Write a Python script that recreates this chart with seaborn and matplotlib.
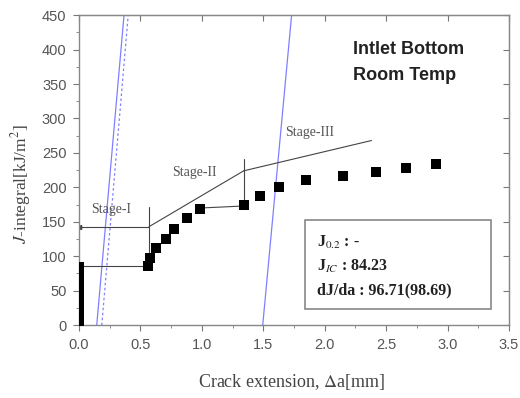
import matplotlib
matplotlib.use("Agg")
import matplotlib.pyplot as plt
import seaborn as sns
import pandas as pd
from matplotlib.patches import Rectangle

# J-R data points (crack extension mm, J kJ/m2)
da = [0.0, 0.0, 0.0, 0.0, 0.0, 0.0, 0.0, 0.0, 0.0, 0.0, 0.0, 0.0, 0.0, 0.0, 0.0,
      0.56, 0.58, 0.63, 0.705, 0.776, 0.876, 0.985, 1.343, 1.473, 1.625,
      1.845, 2.15, 2.417, 2.66, 2.905]
J = [0, 6, 12, 18, 24, 30, 36, 42, 48, 54, 60, 66, 72, 78, 84,
     86, 98, 112, 125, 140, 155, 169, 175, 188, 201,
     211, 217, 223, 228, 234]

# blunting / offset lines
blunt_x = [0.144, 0.366]
blunt_y = [0, 450]
blunt_dot_x = [0.185, 0.40]
blunt_dot_y = [0, 450]
offset_x = [1.495, 1.73]
offset_y = [0, 450]

# stage construction lines
stage_lines = [
    ([0.0, 0.56], [86, 86]),
    ([0.0, 0.57], [143, 143]),
    ([0.57, 0.57], [86, 172]),
    ([0.57, 1.34], [143, 224]),
    ([1.34, 1.34], [175, 241]),
    ([0.985, 1.343], [170, 173]),
    ([1.34, 2.38], [224, 268]),
]
stage_labels = ["Stage-I", "Stage-II", "Stage-III"]
stage_pos = [(0.26, 168), (0.94, 221), (1.88, 280)]

box_lines = ["J$_{0.2}$ : -", "J$_{IC}$ : 84.23", "dJ/da : 96.71(98.69)"]
box_y = [120, 85, 50]

df = pd.DataFrame({"da": da, "J": J})

sns.set_style("ticks")
plt.rcParams["font.family"] = ["Liberation Serif", "DejaVu Serif"]
plt.rcParams["mathtext.fontset"] = "stix"

fig = plt.figure(figsize=(5.2, 3.98), dpi=100)
ax = fig.add_axes([0.152, 0.183, 0.827, 0.779])

ax.plot(blunt_x, blunt_y, color="#7f7fff", lw=0.9)
ax.plot(blunt_dot_x, blunt_dot_y, color="#7f7fff", lw=0.9, ls=(0, (2, 2)))
ax.plot(offset_x, offset_y, color="#7f7fff", lw=0.9)

for xs, ys in stage_lines:
    ax.plot(xs, ys, color="#444444", lw=0.8)
ax.plot([0.0], [143], marker="<", color="#444444", ms=3)

sns.scatterplot(data=df, x="da", y="J", marker="s", s=50, color="black",
                edgecolor="black", linewidth=0, ax=ax, zorder=5)

for lab, (x, y) in zip(stage_labels, stage_pos):
    ax.text(x, y, lab, ha="center", va="center", fontsize=10, color="#555555")

ax.text(2.23, 400, "Intlet Bottom", fontsize=13, fontweight="bold",
        family="Liberation Sans", color="#222222", va="center")
ax.text(2.23, 362, "Room Temp", fontsize=13, fontweight="bold",
        family="Liberation Sans", color="#222222", va="center")

ax.add_patch(Rectangle((1.839, 23.3), 1.513, 129.5, fill=False,
                       ec="#888888", lw=1.2, zorder=6))
for txt, y in zip(box_lines, box_y):
    ax.text(1.934, y, txt, fontsize=11.5, fontweight="bold", va="center",
            ha="left", color="#222222", zorder=7)

ax.set_xlim(0, 3.5)
ax.set_ylim(0, 450)
ax.set_xticks([0.0, 0.5, 1.0, 1.5, 2.0, 2.5, 3.0, 3.5])
ax.set_yticks([0, 50, 100, 150, 200, 250, 300, 350, 400, 450])
ax.set_xticklabels(["0.0", "0.5", "1.0", "1.5", "2.0", "2.5", "3.0", "3.5"])
ax.set_xticks([0.25, 0.75, 1.25, 1.75, 2.25, 2.75, 3.25], minor=True)
ax.set_yticks([25, 75, 125, 175, 225, 275, 325, 375, 425], minor=True)

for lab in ax.get_xticklabels() + ax.get_yticklabels():
    lab.set_family("Liberation Sans")
    lab.set_fontsize(10.5)
    lab.set_color("#555555")

ax.tick_params(which="major", direction="out", length=4, color="#777777",
               top=False, right=False, pad=5)
ax.tick_params(which="minor", direction="out", length=2, color="#777777")
ax_top = ax.secondary_xaxis("top")
ax_top.set_xticks([0.0, 0.5, 1.0, 1.5, 2.0, 2.5, 3.0, 3.5])
ax_top.tick_params(direction="in", length=4, color="#777777", labeltop=False)
ax_top.spines["top"].set_color("#888888")
ax_right = ax.secondary_yaxis("right")
ax_right.set_yticks([0, 50, 100, 150, 200, 250, 300, 350, 400, 450])
ax_right.tick_params(direction="in", length=4, color="#777777", labelright=False)
ax_right.spines["right"].set_color("#888888")

for sp in ax.spines.values():
    sp.set_color("#888888")
    sp.set_linewidth(1.0)

ax.set_xlabel("Crack extension, $\\Delta$a[mm]", fontsize=13, color="#444444")
ax.xaxis.set_label_coords(0.495, -0.183)
ax.xaxis.label.set_va("center")
ax.set_ylabel("$J$-integral[kJ/m$^2$]", fontsize=12.5, color="#444444")
ax.yaxis.set_label_coords(-0.135, 0.455)
ax.yaxis.label.set_va("center")

fig.savefig("out.png", dpi=100)
